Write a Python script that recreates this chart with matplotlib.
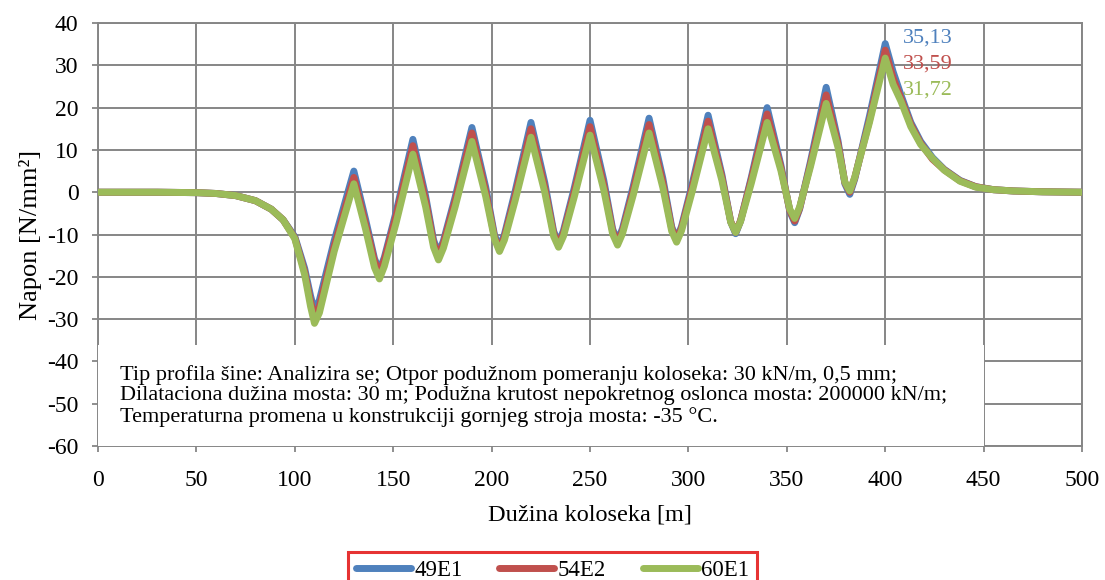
import numpy as np
import matplotlib.pyplot as plt
from matplotlib.patches import Rectangle

plt.rcParams['font.family'] = ['Liberation Serif', 'DejaVu Serif']
plt.rcParams['axes.unicode_minus'] = False

# duzina koloseka [m]
x = [0, 30, 50, 60, 70, 80, 88, 94, 100, 105, 108, 110, 112.5, 120, 130,
     136, 140.5, 143, 145.5, 151.5, 160,
     166.5, 170.5, 173, 175.5, 181.5, 190,
     197, 201.5, 204, 206.5, 212, 220,
     227, 231.5, 234, 236.5, 242, 250,
     257, 261.5, 264, 266.5, 272, 280,
     287, 291.5, 294, 296.5, 302, 310,
     317, 321.5, 324, 326.5, 332, 340,
     347, 351.5, 354, 356.5, 362, 370,
     376, 379.5, 382, 384.5, 392, 400,
     404, 408, 413, 418, 424, 430, 438, 446, 455, 465, 480, 500]

# napon [N/mm2]
s_49E1 = [0, 0, -0.1, -0.3, -0.8, -2.0, -4.0, -6.5, -10.5, -18.0, -24.5, -28.0, -25.5, -11.5, 5.0,
          -6.5, -15.7, -18.5, -15.4, -4.6, 12.5,
          -1.0, -11.3, -14.5, -11.5, -1.1, 15.3,
          1.2, -10.2, -13.0, -10.0, 0.3, 16.5,
          2.3, -9.2, -12.0, -9.1, 1.0, 17.0,
          2.8, -8.7, -11.5, -8.6, 1.5, 17.5,
          3.3, -8.2, -11.0, -8.1, 2.1, 18.2,
          4.2, -7.0, -9.8, -6.8, 3.6, 20.0,
          6.4, -4.5, -7.2, -4.0, 7.2, 24.8,
          12.2, 2.0, -0.5, 3.1, 18.0, 35.13,
          28.5, 23.0, 16.5, 12.0, 8.2, 5.4, 2.8, 1.3, 0.6, 0.3, 0.1, 0]

s_54E2 = [0, 0, -0.1, -0.3, -0.8, -2.0, -4.0, -6.5, -10.8, -18.8, -25.8, -29.5, -27.0, -12.8, 3.5,
          -7.6, -16.3, -19.0, -16.0, -5.5, 11.0,
          -2.0, -12.0, -15.0, -12.1, -2.0, 14.0,
          0.2, -10.7, -13.5, -10.6, -0.7, 15.0,
          1.2, -9.7, -12.5, -9.7, 0.1, 15.5,
          1.7, -9.2, -12.0, -9.2, 0.6, 16.0,
          2.3, -8.6, -11.3, -8.5, 1.3, 16.8,
          3.6, -6.9, -9.5, -6.7, 3.1, 18.5,
          5.8, -4.3, -6.8, -3.8, 6.6, 23.0,
          11.5, 2.3, 0.0, 3.4, 17.0, 33.59,
          27.0, 22.2, 16.0, 11.6, 7.8, 5.3, 2.7, 1.3, 0.6, 0.3, 0.1, 0]

s_60E1 = [0, 0, -0.1, -0.3, -0.8, -2.0, -4.0, -6.5, -11.0, -19.5, -27.0, -31.0, -28.5, -14.0, 2.0,
          -8.8, -17.8, -20.5, -17.5, -7.2, 9.0,
          -3.5, -13.0, -16.0, -13.2, -3.4, 12.0,
          -1.0, -11.1, -14.0, -11.3, -1.9, 13.0,
          0.0, -10.4, -13.0, -10.4, -1.1, 13.5,
          0.5, -9.9, -12.5, -9.8, -0.6, 14.0,
          1.1, -9.2, -11.8, -9.1, 0.3, 15.0,
          2.8, -7.1, -9.5, -6.9, 2.2, 16.5,
          5.1, -4.0, -6.2, -3.5, 6.0, 21.0,
          10.6, 2.4, 0.3, 3.5, 16.5, 31.72,
          25.5, 21.5, 15.5, 11.3, 8.0, 5.2, 2.6, 1.2, 0.6, 0.3, 0.1, 0]

names = ['49E1', '54E2', '60E1']
colors = ['#4F81BD', '#C0504D', '#9BBB59']
peaks = ['35,13', '33,59', '31,72']

opis = ('Tip profila šine: Analizira se; Otpor podužnom pomeranju koloseka: 30 kN/m, 0,5 mm;\n'
        'Dilataciona dužina mosta: 30 m; Podužna krutost nepokretnog oslonca mosta: 200000 kN/m;\n'
        'Temperaturna promena u konstrukciji gornjeg stroja mosta: -35 °C.')

fig = plt.figure(figsize=(11.05, 5.8), dpi=100)
ax = fig.add_axes([0.0887, 0.231, 0.8905, 0.7293])

for s, c, n in zip([s_49E1, s_54E2, s_60E1], colors, names):
    ax.plot(x, s, color=c, lw=5, label=n, solid_capstyle='round',
            solid_joinstyle='round', zorder=3)

ax.set_xlim(0, 500)
ax.set_ylim(-60, 40)
ax.set_xticks(np.arange(0, 501, 50))
ax.set_yticks(np.arange(-60, 41, 10))
ax.grid(True, color='#868686', lw=1.4, zorder=0)
for sp in ax.spines.values():
    sp.set_color('#868686')
    sp.set_linewidth(1.4)
ax.tick_params(colors='#868686', labelcolor='black', labelsize=17, length=4, width=1.3)
ax.tick_params(axis='x', pad=13)
ax.tick_params(axis='y', pad=10)
ax.set_xlabel('Dužina koloseka [m]', fontsize=17.5, labelpad=10)
ax.set_ylabel('Napon [N/mm²]', fontsize=19, labelpad=4)

# bijelo polje s opisom proracuna
ax.add_patch(Rectangle((0, -60), 450, 24, facecolor='white', edgecolor='none', zorder=4))
ax.text(11, -40.8, opis, fontsize=16, va='top', ha='left', linespacing=1.1, zorder=5)

for i in range(3):
    ax.text(409, 36.5 - 6.2 * i, peaks[i], color=colors[i], fontsize=16, va='center', zorder=5)

leg = fig.legend(loc='lower center', bbox_to_anchor=(0.5, -0.035), ncol=3, fontsize=16.5,
                 frameon=True, fancybox=False, handlelength=2.4, columnspacing=1.6,
                 handletextpad=0.15, borderpad=0.35)
leg.get_frame().set_edgecolor('#E00000')
leg.get_frame().set_linewidth(2.2)

fig.savefig('out.png', dpi=100)
